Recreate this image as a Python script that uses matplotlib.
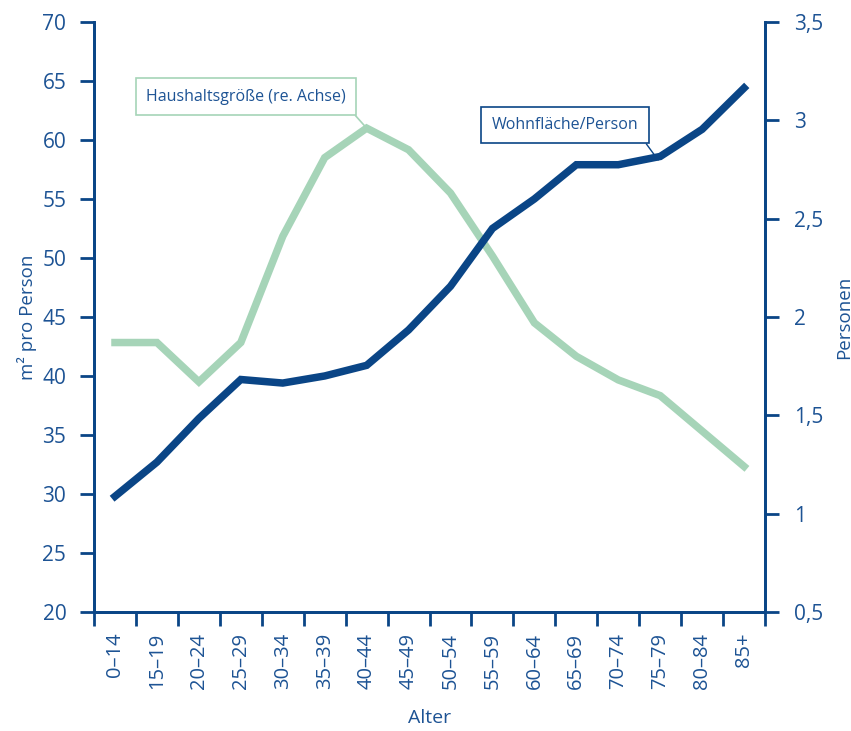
import matplotlib.pyplot as plt
import numpy as np

plt.rcParams['font.family'] = ['Open Sans', 'DejaVu Sans']

# data
alter = ['0–14', '15–19', '20–24', '25–29', '30–34', '35–39', '40–44', '45–49',
         '50–54', '55–59', '60–64', '65–69', '70–74', '75–79', '80–84', '85+']
wohnflaeche = [29.8, 32.7, 36.4, 39.7, 39.4, 40.0, 40.9, 43.9,
               47.6, 52.5, 55.0, 57.9, 57.9, 58.6, 60.9, 64.4]
haushalt = [1.87, 1.87, 1.67, 1.87, 2.41, 2.81, 2.96, 2.85,
            2.63, 2.31, 1.97, 1.80, 1.68, 1.60, 1.42, 1.24]

left_ticks = [20, 25, 30, 35, 40, 45, 50, 55, 60, 65, 70]
right_ticks = [0.5, 1, 1.5, 2, 2.5, 3, 3.5]
right_labels = ['0,5', '1', '1,5', '2', '2,5', '3', '3,5']

BLUE = '#0a4586'
TXT = '#1d5394'
GREEN = '#a6d4b8'

fig = plt.figure(figsize=(8.51, 7.31), dpi=100)
ax = fig.add_axes([0.1105, 0.1628, 0.7885, 0.8072])
ax2 = ax.twinx()

x = np.arange(len(alter))
ax2.plot(x, haushalt, color=GREEN, lw=5.4, solid_joinstyle='miter', zorder=2)
ax.plot(x, wohnflaeche, color=BLUE, lw=5.4, solid_joinstyle='miter', zorder=3)

# blue line on top
ax.set_zorder(ax2.get_zorder() + 1)
ax.patch.set_visible(False)

ax.set_xlim(-0.5, len(alter) - 0.5)
ax.set_ylim(20, 70)
ax2.set_ylim(0.5, 3.5)

ax.set_yticks(left_ticks)
ax2.set_yticks(right_ticks)
ax2.set_yticklabels(right_labels)

ax.set_xticks(x)
ax.set_xticklabels(alter, rotation=90)
ax.set_xticks(np.arange(-0.5, len(alter)), minor=True)
ax.tick_params(axis='x', which='major', length=0, pad=15, labelsize=14.5, labelcolor=TXT)
ax.tick_params(axis='x', which='minor', length=10, width=2, color=BLUE, direction='out')
ax.tick_params(axis='y', length=10, width=2, color=BLUE, labelsize=15, labelcolor=TXT, pad=10)
ax2.tick_params(axis='y', length=10, width=2, color=BLUE, labelsize=15, labelcolor=TXT, pad=11)

for a in (ax, ax2):
    a.spines['top'].set_visible(False)
    for s in ('left', 'right', 'bottom'):
        a.spines[s].set_color(BLUE)
        a.spines[s].set_linewidth(2)

ax.set_ylabel('m² pro Person', fontsize=13.5, color=TXT, labelpad=4)
ax2.set_ylabel('Personen', fontsize=13.5, color=TXT, labelpad=8)
ax.set_xlabel('Alter', fontsize=14, color=TXT, labelpad=14)

# callout labels
ax2.annotate('Haushaltsgröße (re. Achse)', xy=(6, haushalt[6]), xytext=(3.12, 3.12),
             fontsize=11.5, color=TXT, ha='center', va='center',
             bbox=dict(boxstyle='square,pad=0.65', fc='white', ec=GREEN, lw=1.2),
             arrowprops=dict(arrowstyle='-', color=GREEN, lw=1.2, relpos=(1, 0),
                             shrinkA=0, shrinkB=0))
ax.annotate('Wohnfläche/Person', xy=(12.95, 58.3), xytext=(10.73, 61.27),
            fontsize=11.5, color=TXT, ha='center', va='center',
            bbox=dict(boxstyle='square,pad=0.65', fc='white', ec=BLUE, lw=1.2),
            arrowprops=dict(arrowstyle='-', color=BLUE, lw=1.0, relpos=(1, 0),
                            shrinkA=0, shrinkB=0))

fig.savefig('out.png', dpi=100)
